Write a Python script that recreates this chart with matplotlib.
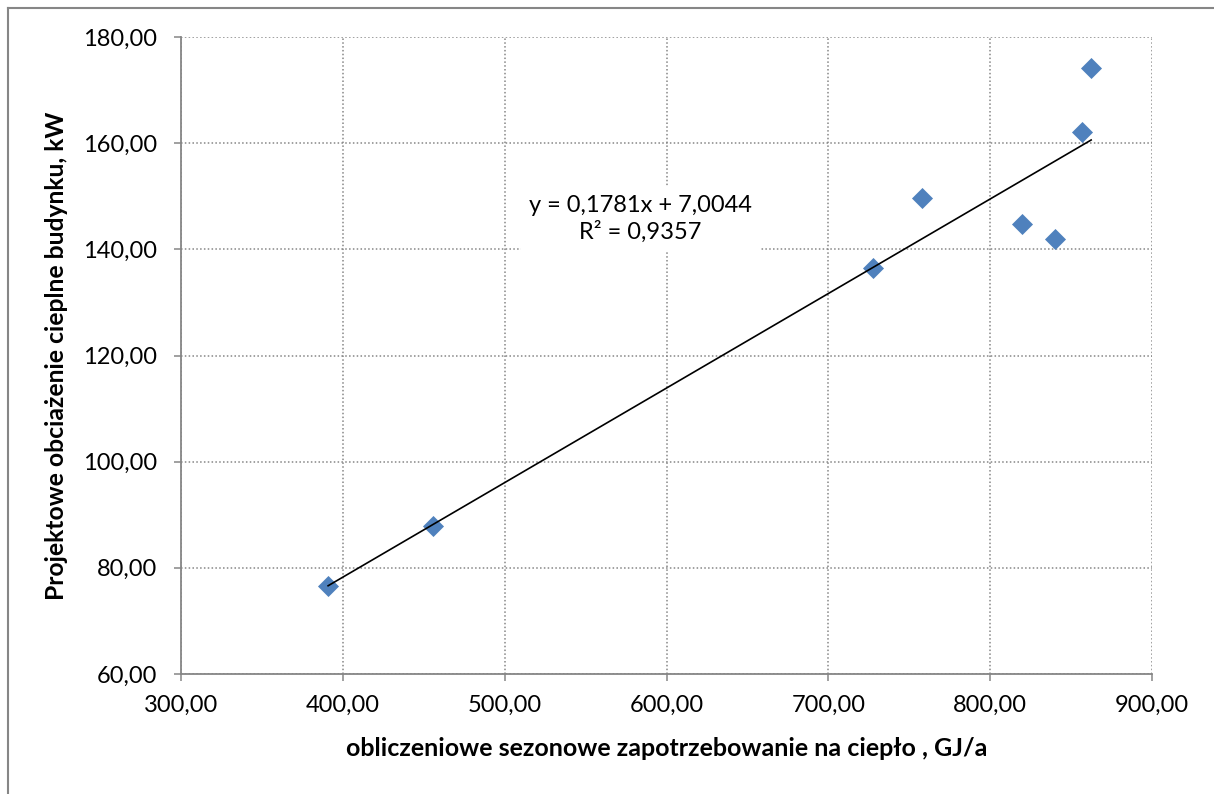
import matplotlib

matplotlib.use("Agg")

import matplotlib.pyplot as plt
from matplotlib.lines import Line2D
from matplotlib.ticker import FuncFormatter, MultipleLocator

plt.rcParams["font.family"] = ["Lato", "DejaVu Sans"]

# seasonal heat demand [GJ/a] vs design heat load [kW]
demand = [390.9, 455.9, 727.3, 758.0, 819.8, 840.2, 856.9, 862.4]
load = [76.6, 87.9, 136.5, 149.6, 144.7, 141.9, 162.1, 174.2]

slope = 0.1781
intercept = 7.0044
r_squared = 0.9357

x_label = "obliczeniowe sezonowe zapotrzebowanie na ciepło , GJ/a"
y_label = "Projektowe obciażenie cieplne budynku, kW"

GRAY = "#868686"
BLUE = "#4F81BD"


def comma_fmt(v, pos):
    return f"{v:.2f}".replace(".", ",")


fig = plt.figure(figsize=(12.14, 7.94), dpi=100)

ax = fig.add_axes([181 / 1214, 1 - 674 / 794, (1152 - 181) / 1214, (674 - 37) / 794])

ax.scatter(
    demand,
    load,
    marker="D",
    s=115,
    color=BLUE,
    linewidths=0,
    zorder=3,
)

x_fit = [min(demand), max(demand)]
y_fit = [slope * v + intercept for v in x_fit]
ax.plot(x_fit, y_fit, color="black", linewidth=1.2, zorder=4)

eq_text = f"y = {slope:.4f}x + {intercept:.4f}".replace(".", ",")
r_text = f"R² = {r_squared:.4f}".replace(".", ",")
ax.text(
    584,
    145.8,
    eq_text + "\n" + r_text,
    ha="center",
    va="center",
    fontsize=17,
    linespacing=1.25,
    bbox=dict(facecolor="white", edgecolor="none", pad=6),
    zorder=5,
)

ax.set_xlim(300, 900)
ax.set_ylim(60, 180)
ax.xaxis.set_major_locator(MultipleLocator(100))
ax.yaxis.set_major_locator(MultipleLocator(20))
ax.xaxis.set_major_formatter(FuncFormatter(comma_fmt))
ax.yaxis.set_major_formatter(FuncFormatter(comma_fmt))

ax.grid(True, color=GRAY, linestyle=(0, (1, 1.5)), linewidth=1.1, zorder=0)
ax.set_axisbelow(True)

for side in ["top", "right"]:
    ax.spines[side].set_visible(False)
for side in ["left", "bottom"]:
    ax.spines[side].set_color(GRAY)
    ax.spines[side].set_linewidth(1.3)

ax.tick_params(
    axis="both",
    direction="out",
    length=5,
    width=1.1,
    color=GRAY,
    labelsize=17,
    labelcolor="black",
)
ax.tick_params(axis="y", pad=12)
ax.tick_params(axis="x", pad=10)

ax.set_xlabel(x_label, fontsize=18, fontweight="bold", labelpad=15)
ax.set_ylabel(y_label, fontsize=17.8, fontweight="bold", labelpad=11)

# chart-area border (only left and top edges are inside the picture)
bx = 7.5 / 1214
by = 1 - 7.5 / 794
fig.add_artist(Line2D([bx, bx], [0, by], transform=fig.transFigure, color=GRAY, linewidth=1.5))
fig.add_artist(Line2D([bx, 1], [by, by], transform=fig.transFigure, color=GRAY, linewidth=1.5))

plt.savefig("out.png", dpi=100)
